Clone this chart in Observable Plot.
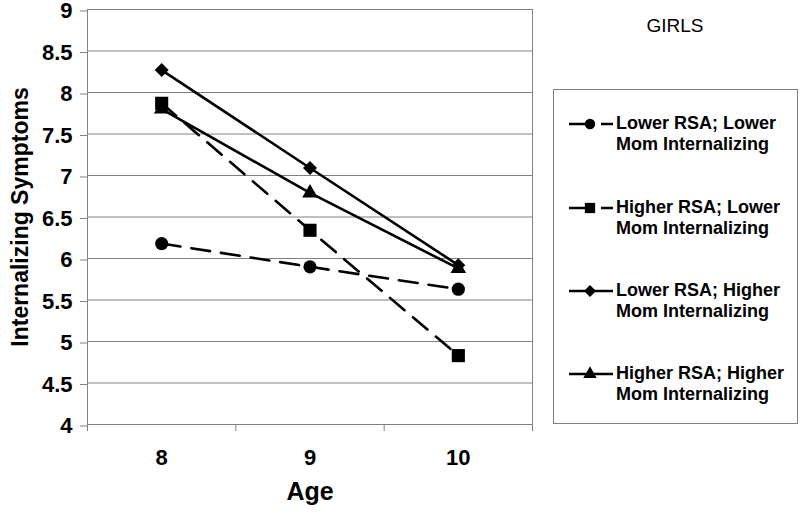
<!DOCTYPE html>
<html><head><meta charset="utf-8">
<script src="https://cdn.jsdelivr.net/npm/d3@7"></script>
<script src="https://cdn.jsdelivr.net/npm/@observablehq/plot@0.6"></script>
<style>
body{margin:0;background:#fff;}
#wrap{position:relative;width:800px;height:514px;font-family:"Liberation Sans",Arial,sans-serif;}
#wrap svg.chart{position:absolute;left:0;top:0;}
.legend{position:absolute;left:553px;top:89px;width:245px;height:335px;border:1px solid #808080;box-sizing:border-box;}
.entry{position:absolute;left:0;width:245px;}
.entry svg{position:absolute;left:13px;}
.entry .lbl{position:absolute;left:62px;font-weight:bold;font-size:18px;line-height:21px;color:#000;white-space:nowrap;}
.girls{position:absolute;left:600px;top:15px;width:150px;text-align:center;font-size:19px;color:#000;}
</style></head><body><div id="wrap"></div>
<script>
const ages = [8, 9, 10];
const seriesNames = [
  "Lower RSA; Lower Mom Internalizing",
  "Higher RSA; Lower Mom Internalizing",
  "Lower RSA; Higher Mom Internalizing",
  "Higher RSA; Higher Mom Internalizing"
];
const legendLines = [
  ["Lower RSA; Lower", "Mom Internalizing"],
  ["Higher RSA; Lower", "Mom Internalizing"],
  ["Lower RSA; Higher", "Mom Internalizing"],
  ["Higher RSA; Higher", "Mom Internalizing"]
];
const lowerRsaLowerMom   = [6.18, 5.90, 5.63];
const higherRsaLowerMom  = [7.87, 6.34, 4.83];
const lowerRsaHigherMom  = [8.27, 7.09, 5.92];
const higherRsaHigherMom = [7.80, 6.79, 5.88];
const yTicks = [4, 4.5, 5, 5.5, 6, 6.5, 7, 7.5, 8, 8.5, 9];
const xBoundaries = [7.5, 8.5, 9.5, 10.5];
const yTitle = "Internalizing Symptoms";
const xTitle = "Age";
const panelTitle = "GIRLS";

const seriesValues = [lowerRsaLowerMom, higherRsaLowerMom, lowerRsaHigherMom, higherRsaHigherMom];
const styles = [
  {dashed: true,  symbol: "circle",   r: 6.6, lr: 5.2, d3sym: d3.symbolCircle},
  {dashed: true,  symbol: "square",   r: 7.4, lr: 5.8, d3sym: d3.symbolSquare},
  {dashed: false, symbol: "diamond2", r: 6.3, lr: 5.4, d3sym: d3.symbolDiamond2},
  {dashed: false, symbol: "triangle", r: 5.8, lr: 5.0, d3sym: d3.symbolTriangle}
];
const data = seriesNames.flatMap((s, i) => ages.map((a, j) => ({series: s, idx: i, age: a, value: seriesValues[i][j]})));

const marks = [
  Plot.gridY(yTicks, {stroke: "#808080", strokeOpacity: 1, strokeWidth: 1}),
  Plot.frame({stroke: "#808080", strokeWidth: 1}),
  Plot.axisY(yTicks, {tickSize: 7, tickPadding: 8, dy: 1.5, stroke: "#808080", fill: "#000", fontSize: 22, fontWeight: "bold", label: null, tickFormat: d => String(d)}),
  Plot.axisX(ages, {tickSize: 0, tickPadding: 25, fill: "#000", fontSize: 22, fontWeight: "bold", label: null, tickFormat: d => String(d)}),
  Plot.axisX(xBoundaries, {tickSize: 7, stroke: "#808080", label: null, tickFormat: () => ""}),
  Plot.text([yTitle], {frameAnchor: "left", dx: -67, rotate: -90, textAnchor: "middle", text: d => d, fontSize: 23, fontWeight: "bold", fill: "#000"}),
  Plot.text([xTitle], {frameAnchor: "bottom", dy: 75, text: d => d, fontSize: 25, fontWeight: "bold", fill: "#000"})
];
seriesNames.forEach((s, i) => {
  const sd = data.filter(d => d.idx === i);
  marks.push(Plot.line(sd, {x: "age", y: "value", stroke: "#000", strokeWidth: 2.6, strokeDasharray: styles[i].dashed ? "19,11" : null}));
});
seriesNames.forEach((s, i) => {
  const sd = data.filter(d => d.idx === i);
  marks.push(Plot.dot(sd, {x: "age", y: "value", symbol: styles[i].symbol, r: styles[i].r, fill: "#000", stroke: "none"}));
});

const chart = Plot.plot({
  width: 800, height: 514,
  marginLeft: 87, marginRight: 268, marginTop: 9, marginBottom: 90,
  x: {domain: [7.5, 10.5]},
  y: {domain: [4, 9]},
  style: {fontFamily: "'Liberation Sans', Arial, sans-serif", background: "transparent", overflow: "visible"},
  marks
});
chart.classList.add("chart");
const wrap = document.getElementById("wrap");
wrap.appendChild(chart);

d3.select(wrap).append("div").attr("class", "girls").text(panelTitle);

const legend = d3.select(wrap).append("div").attr("class", "legend");
const entryCenters = [34, 118, 201, 284];
seriesNames.forEach((s, i) => {
  const e = legend.append("div").attr("class", "entry").style("top", (entryCenters[i] - 11) + "px");
  const svg = e.append("svg").attr("width", 50).attr("height", 22).style("top", "0px");
  svg.append("line").attr("x1", 2).attr("x2", 46).attr("y1", 11).attr("y2", 11)
    .attr("stroke", "#000").attr("stroke-width", 2.6)
    .attr("stroke-dasharray", styles[i].dashed ? "21,11" : null);
  svg.append("path").attr("transform", "translate(23,11)")
    .attr("d", d3.symbol(styles[i].d3sym, Math.PI * styles[i].lr * styles[i].lr)()).attr("fill", "#000");
  const lbl = e.append("div").attr("class", "lbl").style("top", "0px");
  lbl.append("div").text(legendLines[i][0]);
  lbl.append("div").text(legendLines[i][1]);
});
</script></body></html>
